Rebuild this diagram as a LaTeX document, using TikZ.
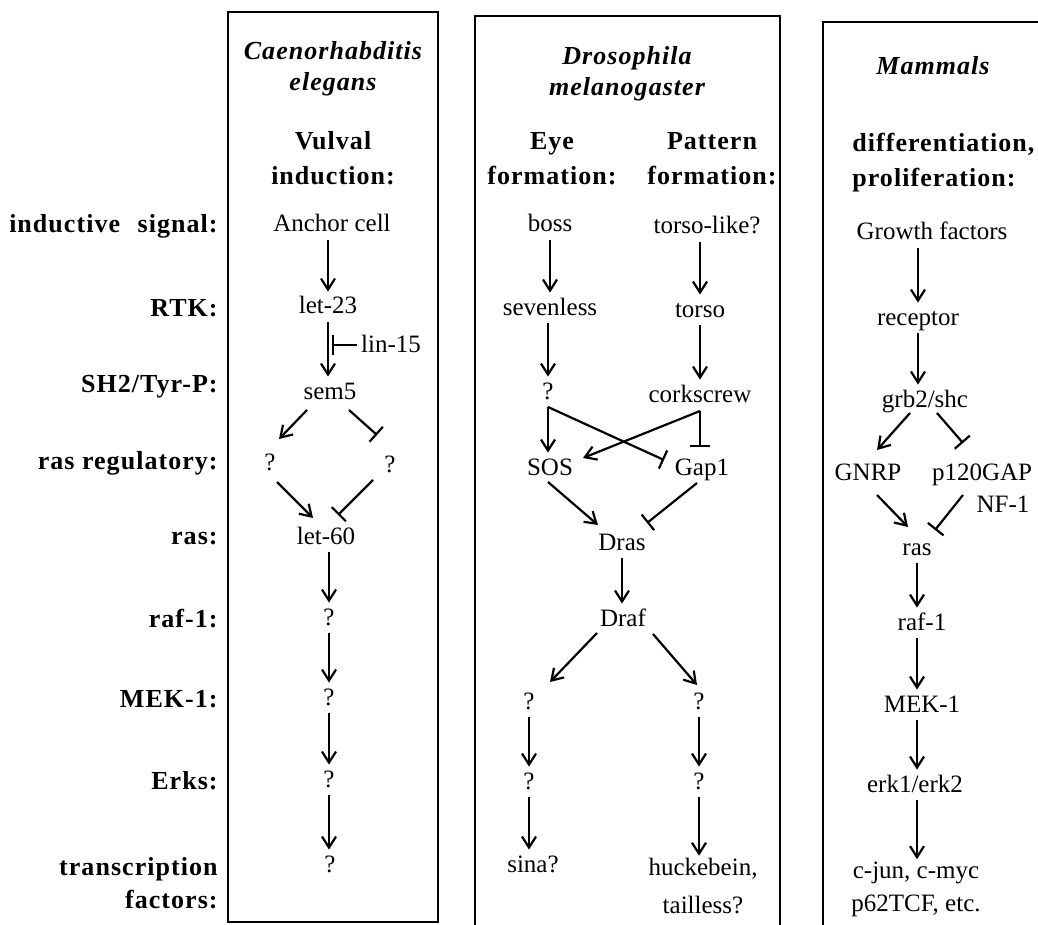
\documentclass[tikz,border=0pt]{standalone}
\usepackage{fontspec}
\setmainfont{Liberation Serif}
\newfontfamily\lblfont[LetterSpace=4.0]{Liberation Serif}
\usetikzlibrary{arrows.meta,calc}
\tikzset{
  gene/.style={font=\fontsize{12.5}{15}\selectfont, inner sep=2pt, text height=9pt, text depth=2pt},
  gene2/.style={font=\fontsize{12.5}{17}\selectfont, inner sep=2pt, align=center},
  lbl/.style={font=\lblfont\bfseries\fontsize{13}{16.5}\selectfont, anchor=east, align=right, inner sep=0pt},
  spec/.style={font=\lblfont\bfseries\itshape\fontsize{13}{15.5}\selectfont, align=center, inner sep=0pt},
  head/.style={font=\lblfont\bfseries\fontsize{13}{17.5}\selectfont, align=center, inner sep=0pt},
  act/.style={line width=1.1pt, -{Straight Barb[length=5.5pt,width=7pt]}},
  inh/.style={line width=1.1pt, -{Bar[width=10pt]}},
  frame/.style={line width=1pt}
}
\begin{document}
\begin{tikzpicture}[x=0.5pt,y=-0.5pt]
\useasboundingbox (0,0) rectangle (1038,925);
\clip (0,0) rectangle (1038,925);
% boxes
\draw[frame] (228,12) rectangle (438,922);
\draw[frame] (475,940) -- (475,16) -- (780,16) -- (780,940);
\draw[frame] (823,940) -- (823,22) -- (1050,22);
% row labels
\node[lbl] (Linduct) at (218,226) {inductive\hspace{5pt} signal:};
\node[lbl] (Lrtk) at (218,308) {RTK:};
\node[lbl] (Lsh2) at (218,387) {SH2/Tyr-P:};
\node[lbl] (Lrasreg) at (218,463) {ras regulatory:};
\node[lbl] (Lras) at (218,539) {ras:};
\node[lbl] (Lraf) at (218,619) {raf-1:};
\node[lbl] (Lmek) at (218,699) {MEK-1:};
\node[lbl] (Lerk) at (218,781) {Erks:};
\node[lbl] (Ltf) at (218,883) {transcription\\factors:};
% column 1
\node[spec] (ce) at (333,69) {Caenorhabditis\\elegans};
\node[head] (vulv) at (333,158) {Vulval\\induction:};
\node[gene] (anchor) at (332,225) {Anchor cell};
\node[gene] (let23) at (328,307) {let-23};
\node[gene] (sem5) at (330,392) {sem5};
\node[gene] (lin15) at (391,345) {lin-15};
\node[gene] (qL) at (270,463) {?};
\node[gene] (qR) at (390,465) {?};
\node[gene] (let60) at (326,537) {let-60};
\node[gene] (c1raf) at (329,618) {?};
\node[gene] (c1mek) at (329,698) {?};
\node[gene] (c1erk) at (329,780) {?};
\node[gene] (c1tf) at (330,865) {?};
\draw[act] (anchor.south -| let23) -- (let23);
\draw[act] (let23) -- (let23 |- sem5.north);
\draw[inh] (lin15.west) -- ($(lin15.west -| let23)+(4,0)$);
\draw[act] ($(sem5)+(-23,18)$) -- ($(qL)+(9,-24)$);
\draw[inh] ($(sem5)+(19,18)$) -- ($(qR)+(-13,-30)$);
\draw[act] ($(qL)+(7,19)$) -- ($(let60)+(-13,-19)$);
\draw[inh] ($(qR)+(-17,15)$) -- ($(let60)+(12,-22)$);
\draw[act] (let60.south -| c1raf) -- (c1raf);
\draw[act] (c1raf) -- (c1mek);
\draw[act] (c1mek) -- (c1erk);
\draw[act] (c1erk) -- (c1erk |- c1tf.north);
% column 2
\node[spec] (dm) at (627,74) {Drosophila\\melanogaster};
\node[head] (eye) at (552,159) {Eye\\formation:};
\node[head] (patt) at (712,159) {Pattern\\formation:};
\node[gene] (boss) at (550,225) {boss};
\node[gene] (tlike) at (707,227) {torso-like?};
\node[gene] (sev) at (550,308) {sevenless};
\node[gene] (torso) at (700,310) {torso};
\node[gene] (q2) at (548,392) {?};
\node[gene] (cork) at (700,395) {corkscrew};
\node[gene] (sos) at (550,468) {SOS};
\node[gene] (gap1) at (702,468) {Gap1};
\node[gene] (dras) at (622,543) {Dras};
\node[gene] (draf) at (623,619) {Draf};
\node[gene] (q3L) at (529,702) {?};
\node[gene] (q3R) at (699,702) {?};
\node[gene] (q4L) at (529,782) {?};
\node[gene] (q4R) at (699,782) {?};
\node[gene] (sina) at (533,865) {sina?};
\node[gene2, font=\fontsize{12.5}{19}\selectfont] (huck) at (703,886) {huckebein,\\tailless?};
\coordinate (b2) at ($(q2)+(0,15)$);
\coordinate (b3) at ($(cork)+(0,16)$);
\draw[act] (boss) -- (boss |- sev.north);
\draw[act] (tlike.south -| torso) -- (torso);
\draw[act] (sev.south -| q2) -- (q2);
\draw[act] (torso) -- (cork);
\draw[act] (b2) -- (b2 |- sos.north);
\draw[inh] (b2) -- ($(gap1)+(-38,-8)$);
\draw[act] (b3) -- ($(sos)+(33,-10)$);
\draw[inh] (b3) -- ($(gap1)+(-2,-21)$);
\draw[act] ($(sos)+(-2,14)$) -- ($(dras)+(-24,-18)$);
\draw[inh] ($(gap1)+(-5,15)$) -- ($(dras)+(25,-20)$);
\draw[act] (dras) -- (dras |- draf.north);
\draw[act] ($(draf)+(-26,14)$) -- ($(q3L)+(21,-20)$);
\draw[act] ($(draf)+(30,15)$) -- ($(q3R)+(-2,-17)$);
\draw[act] (q3L) -- (q4L);
\draw[act] (q3R) -- (q4R);
\draw[act] (q4L) -- (q4L |- sina.north);
\draw[act] (q4R) -- ($(q4R |- huck.north)+(0,2)$);
% column 3
\node[spec] (mam) at (933,66) {Mammals};
\node[head, align=left, anchor=west] (diff) at (852,163) {differentiation,\\proliferation:};
\node[gene] (gf) at (932,233) {Growth factors};
\node[gene] (rec) at (918,318) {receptor};
\node[gene] (grb) at (925,400) {grb2/shc};
\node[gene] (gnrp) at (868,473) {GNRP};
\node[gene] (p120) at (982,473) {p120GAP};
\node[gene] (nf1) at (1003,505) {NF-1};
\node[gene] (ras) at (917,548) {ras};
\node[gene] (raf) at (922,623) {raf-1};
\node[gene] (mek) at (922,705) {MEK-1};
\node[gene] (erk) at (915,785) {erk1/erk2};
\node[gene2, font=\fontsize{12.5}{16.5}\selectfont] (cjun) at (916,889) {c-jun, c-myc\\p62TCF, etc.};
\draw[act] (gf.south -| rec) -- (rec);
\draw[act] (rec) -- (rec |- grb.north);
\draw[act] ($(grb)+(-15,13)$) -- ($(gnrp)+(9,-23)$);
\draw[inh] ($(grb)+(12,13)$) -- ($(p120)+(-19,-30)$);
\draw[act] ($(gnrp)+(9,22)$) -- ($(ras)+(-9,-21)$);
\draw[inh] ($(p120)+(-19,22)$) -- ($(ras)+(18,-18)$);
\draw[act] (ras) -- (ras |- raf.north);
\draw[act] (raf.south -| ras) -- (ras |- mek.north);
\draw[act] (mek.south -| ras) -- (ras |- erk.north);
\draw[act] (erk.south -| ras) -- ($(ras |- cjun.north)+(0,2)$);
\end{tikzpicture}
\end{document}
